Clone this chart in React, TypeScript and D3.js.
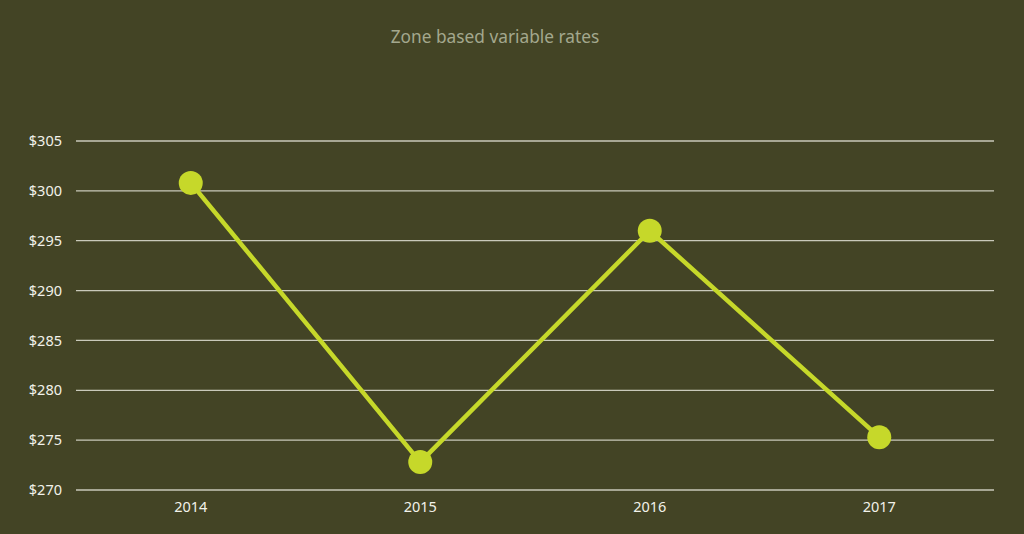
import React from "react";
import * as d3 from "d3";

const categories = ["2014", "2015", "2016", "2017"];
const values = [300.8, 272.8, 296.0, 275.3];
const yTicks = [270, 275, 280, 285, 290, 295, 300, 305];

const W = 1024;
const H = 534;
const margin = { left: 76, right: 30, top: 141, bottom: 44 };

export default function App() {
  const x = d3
    .scaleBand<string>()
    .domain(categories)
    .range([margin.left, W - margin.right])
    .padding(0);
  const y = d3.scaleLinear().domain([270, 305]).range([H - margin.bottom, margin.top]);
  const line = d3
    .line<number>()
    .x((_, i) => (x(categories[i]) as number) + x.bandwidth() / 2)
    .y((d) => y(d));
  const font = "'Noto Sans', 'Open Sans', sans-serif";
  return (
    <svg
      width={W}
      height={H}
      style={{ position: "absolute", left: 0, top: 0, display: "block" }}
    >
      <rect x={0} y={0} width={W} height={H} fill="#434425" />
      <text
        x={495}
        y={43}
        textAnchor="middle"
        fontFamily={font}
        fontSize={17.3}
        fill="#a3a88e"
      >
        Zone based variable rates
      </text>
      {yTicks.map((t) => (
        <g key={t}>
          <line
            x1={margin.left}
            x2={W - margin.right}
            y1={y(t)}
            y2={y(t)}
            stroke="#c9c9ba"
            strokeWidth={1.3}
          />
          <text
            x={62}
            y={y(t)}
            dy="0.35em"
            textAnchor="end"
            fontFamily={font}
            fontSize={14.5}
            fill="#f2f2ea"
          >
            ${t}
          </text>
        </g>
      ))}
      {categories.map((c) => (
        <text
          key={c}
          x={(x(c) as number) + x.bandwidth() / 2}
          y={512}
          textAnchor="middle"
          fontFamily={font}
          fontSize={14.5}
          fill="#f2f2ea"
        >
          {c}
        </text>
      ))}
      <path d={line(values) || ""} fill="none" stroke="#c6d82a" strokeWidth={4.5} strokeLinejoin="round" />
      {values.map((v, i) => (
        <circle
          key={i}
          cx={(x(categories[i]) as number) + x.bandwidth() / 2}
          cy={y(v)}
          r={12}
          fill="#c6d82a"
        />
      ))}
    </svg>
  );
}
